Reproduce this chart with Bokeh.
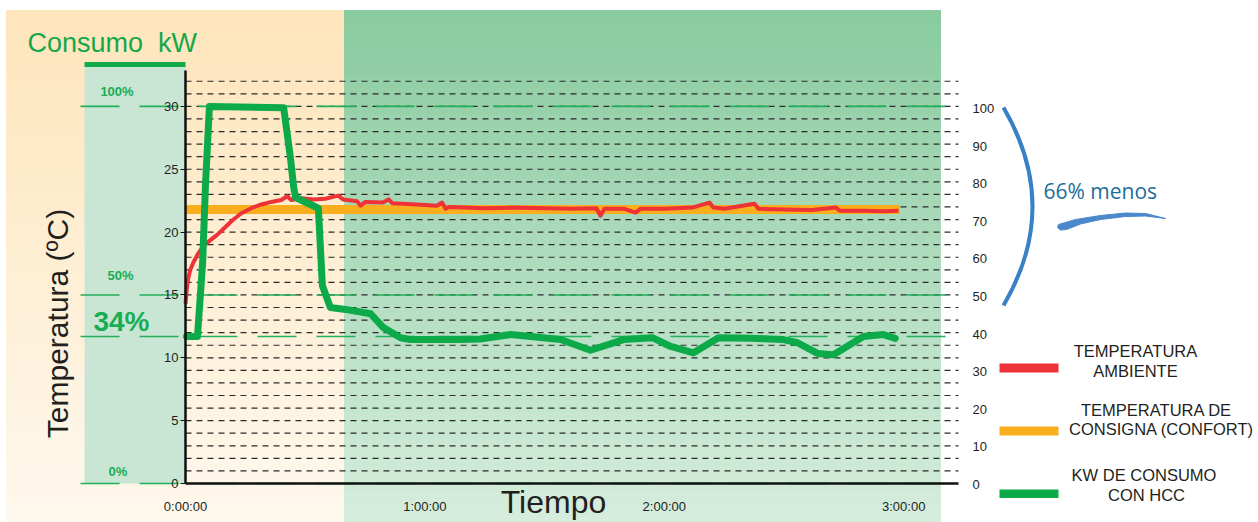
import numpy as np
from bokeh.plotting import figure
from bokeh.models import Range1d, LinearAxis, FixedTicker
from bokeh.core.properties import value
from bokeh.embed import file_html
from bokeh.resources import INLINE

# ------------------------------------------------------------------ data
time_ticks = [0, 60, 120, 180]
time_labels = ["0:00:00", "1:00:00", "2:00:00", "3:00:00"]
temp_ticks = [0, 5, 10, 15, 20, 25, 30]
pct_ticks = [0, 10, 20, 30, 40, 50, 60, 70, 80, 90, 100]
grid_levels = list(range(1, 33))

# temperatura ambiente (minutes, degC)
amb_t = [0.0, 0.3, 0.6, 1.2, 2.0, 3.0, 4.5, 6.0, 8.0, 10.0, 12.0, 14.0, 16.5,
         19.0, 21.5, 24.0, 25.5, 26.5, 29.0, 32.0, 35.0, 38.3, 39.5, 43.0,
         43.9, 45.0, 49.5, 50.9, 51.8, 58.0, 63.0, 64.3, 65.2, 66.0, 70.0,
         75.0, 82.0, 90.0, 97.0, 103.0, 104.0, 105.0, 110.0, 112.8, 114.0,
         120.0, 127.0, 131.3, 132.3, 135.0, 142.6, 143.6, 150.0, 157.0,
         163.0, 164.0, 170.0, 175.0, 178.7]
amb_v = [14.3, 15.4, 16.2, 17.0, 17.6, 18.2, 18.9, 19.3, 19.8, 20.4, 21.0,
         21.5, 21.9, 22.2, 22.4, 22.55, 22.85, 22.55, 22.7, 22.6, 22.65, 22.9,
         22.6, 22.45, 22.1, 22.4, 22.35, 22.6, 22.3, 22.2, 22.1, 22.35, 21.85,
         22.0, 21.95, 21.9, 21.95, 21.9, 21.85, 21.9, 21.3, 21.85, 21.85,
         21.55, 21.85, 21.85, 21.95, 22.35, 21.95, 21.85, 22.25, 21.85, 21.8,
         21.75, 21.95, 21.7, 21.7, 21.65, 21.7]

# temperatura de consigna (confort)
consigna_t = [0, 179]
consigna_v = [21.8, 21.8]

# kW de consumo con HCC (minutes, kW ; 30 kW = 100%)
kw_t = [0.25, 3.0, 4.3, 5.0, 6.0, 24.6, 26.3, 27.1, 27.6, 33.3, 34.3, 36.3,
        40.1, 46.4, 49.6, 53.9, 56.4, 61.4, 68.9, 73.9, 81.5, 86.5, 94.0,
        101.5, 109.8, 117.0, 121.6, 127.3, 133.6, 141.6, 149.9, 153.4, 158.4,
        162.4, 169.9, 174.9, 177.9]
kw_v = [11.7, 11.7, 17.6, 23.7, 30.0, 29.9, 25.9, 23.6, 22.75, 21.9, 15.75,
        14.0, 13.85, 13.5, 12.4, 11.6, 11.45, 11.45, 11.45, 11.5, 11.85, 11.7,
        11.45, 10.6, 11.45, 11.6, 10.9, 10.4, 11.6, 11.55, 11.45, 11.2, 10.35,
        10.25, 11.7, 11.85, 11.55]

ref_levels = [30, 15, 11.7, 0]
ref_labels = ["100%", "50%", "34%", "0%"]
reduction_label = "66% menos"
legend_lines = [["TEMPERATURA", "AMBIENTE"],
                ["TEMPERATURA DE", "CONSIGNA (CONFORT)"],
                ["KW DE CONSUMO", "CON HCC"]]

# ------------------------------------------------------------------ layout
W, H = 1258, 522
X0_PX, PX_PER_MIN = 185.0, 3.99
Y0_PX, PX_PER_DEG = 483.0, 12.57
P0_PX, PX_PER_PCT = 484.0, 3.76


def dx(px):
    return (px - X0_PX) / PX_PER_MIN


def dy(py):
    return (Y0_PX - py) / PX_PER_DEG


FONT = "Liberation Sans"
DARK = "#231F20"
GREEN = "#0DAA4A"

p = figure(width=W, height=H, x_range=Range1d(dx(0), dx(W)),
           y_range=Range1d(dy(H), dy(0)), output_backend="svg",
           toolbar_location=None, min_border=0, x_axis_type=None,
           y_axis_type=None, title=None)
p.outline_line_color = None
p.background_fill_color = "white"
p.border_fill_color = "white"
p.extra_y_ranges = {"pct": Range1d((P0_PX - H) / PX_PER_PCT, P0_PX / PX_PER_PCT)}


def lerp(c1, c2, f):
    return "#%02x%02x%02x" % tuple(int(round(a + (b - a) * f)) for a, b in zip(c1, c2))


# gradient backgrounds
N = 40
top_px, bot_px = 10.0, 530.0
for (lft, rgt, ctop, cbot) in [(6, 344, (254, 229, 187), (254, 248, 237)),
                               (344, 940, (137, 203, 159), (214, 237, 221))]:
    tops, bots, cols = [], [], []
    for i in range(N):
        a = top_px + (bot_px - top_px) * i / N
        b = top_px + (bot_px - top_px) * (i + 1) / N
        tops.append(dy(a))
        bots.append(dy(b))
        cols.append(lerp(ctop, cbot, i / (N - 1)))
    p.quad(left=dx(lft), right=dx(rgt), top=tops, bottom=bots,
           fill_color=cols, line_color=cols, line_width=1)

# left consumption panel
p.quad(left=dx(84), right=dx(185), top=dy(66), bottom=dy(483),
       fill_color="#C9E6D4", line_color=None)
p.quad(left=dx(84), right=dx(185), top=dy(61.5), bottom=dy(66.5),
       fill_color="#10A94B", line_color=None)

# dashed grid
p.segment(x0=0, x1=dx(958), y0=grid_levels, y1=grid_levels,
          line_color="#2b2b2b", line_width=1.2, line_dash="6 5")

# green percentage reference lines
p.segment(x0=dx(80), x1=dx(958), y0=ref_levels, y1=ref_levels,
          line_color="#22B05A", line_width=1.6, line_dash="39 20")

# curves
p.line(consigna_t, consigna_v, line_width=9, line_color="#F8AE1D",
       line_cap="butt")
p.line(amb_t, amb_v, line_width=4, line_color="#EE3237", line_join="round")
p.line(kw_t, kw_v, line_width=7, line_color=GREEN, line_join="round",
       line_cap="round")

# axes
left = LinearAxis(fixed_location=0, ticker=FixedTicker(ticks=temp_ticks),
                  bounds=(0, dy(70)))
left.axis_line_width = 2.5
left.axis_line_color = "#111111"
left.major_tick_out = 5
left.major_tick_in = 0
left.major_tick_line_color = "#111111"
left.minor_tick_line_color = None
left.major_label_standoff = 2
left.major_label_text_font = FONT
left.major_label_text_font_size = "13px"
left.major_label_text_color = DARK
p.add_layout(left, "left")

bottom = LinearAxis(fixed_location=0, ticker=FixedTicker(ticks=time_ticks),
                    bounds=(0, dx(958)),
                    major_label_overrides={t: l for t, l in zip(time_ticks, time_labels)})
bottom.axis_line_width = 2.5
bottom.axis_line_color = "#111111"
bottom.major_tick_line_color = None
bottom.minor_tick_line_color = None
bottom.major_label_standoff = 9
bottom.major_label_text_font = FONT
bottom.major_label_text_font_size = "13px"
bottom.major_label_text_color = DARK
p.add_layout(bottom, "below")

right = LinearAxis(y_range_name="pct", fixed_location=dx(958),
                   ticker=FixedTicker(ticks=pct_ticks))
right.axis_line_color = None
right.major_tick_line_color = None
right.minor_tick_line_color = None
right.major_label_standoff = 8
right.major_label_text_font = FONT
right.major_label_text_font_size = "13px"
right.major_label_text_color = DARK
p.add_layout(right, "right")

# titles
p.text(x=[dx(27)], y=[dy(42)], text=["Consumo\u00a0 kW"], text_font=value(FONT),
       text_font_size="27px", text_color="#14A84B", text_baseline="middle")
p.text(x=[dx(57)], y=[dy(323)], text=["Temperatura (ºC)"], angle=np.pi / 2,
       text_font=value(FONT), text_font_size="30px", text_color=DARK,
       text_align="center", text_baseline="middle")
p.text(x=[dx(553)], y=[dy(501)], text=["Tiempo"], text_font=value(FONT),
       text_font_size="32px", text_color=DARK, text_align="center",
       text_baseline="middle")

# percentage labels in panel
pl_x = [116.5, 120, 121, 117.5]
pl_y = [91, 275, 321, 471]
pl_size = ["13px", "13px", "28px", "13px"]
for lab, xx, yy, sz in zip(ref_labels, pl_x, pl_y, pl_size):
    p.text(x=[dx(xx)], y=[dy(yy)], text=[lab], text_font=value(FONT),
           text_font_style="bold", text_font_size=sz,
           text_color="#1AAD54", text_align="center", text_baseline="middle")

# reduction annotation
p.quadratic(x0=dx(1003), y0=dy(107), x1=dx(1003), y1=dy(305),
            cx=dx(1061), cy=dy(206), line_width=4, line_color="#3A80C6")
sw = [(1058, 224), (1075, 219), (1100, 215), (1125, 212.5), (1145, 213),
      (1165, 218), (1145, 215.5), (1125, 216), (1100, 219), (1080, 223.5),
      (1066, 229), (1060, 229.5), (1057, 227)]
p.patch(x=[dx(a) for a, b in sw], y=[dy(b) for a, b in sw],
        fill_color="#4A87CB", line_color="#4A87CB", line_width=1)
p.text(x=[dx(1043)], y=[dy(190)], text=[reduction_label],
       text_font=value("Open Sans"), text_font_size="21px",
       text_color="#1B6E9C", text_baseline="middle")

# legend
bar_colors = ["#EE3237", "#F8AE1D", GREEN]
bar_y = [(363, 372), (426, 435), (489, 497.5)]
txt_pos = [[(1135, 350), (1135, 370)],
           [(1156, 409), (1161, 428.5)],
           [(1143.5, 474.5), (1146, 494.5)]]
for col, (yt, yb), lines, poss in zip(bar_colors, bar_y, legend_lines, txt_pos):
    p.quad(left=dx(999), right=dx(1058), top=dy(yt), bottom=dy(yb),
           fill_color=col, line_color=None)
    for ln, (xx, yy) in zip(lines, poss):
        p.text(x=[dx(xx)], y=[dy(yy)], text=[ln], text_font=value(FONT),
               text_font_size="16.5px", text_color=DARK, text_align="center",
               text_baseline="middle")

open("out.html", "w").write(file_html(p, INLINE))
